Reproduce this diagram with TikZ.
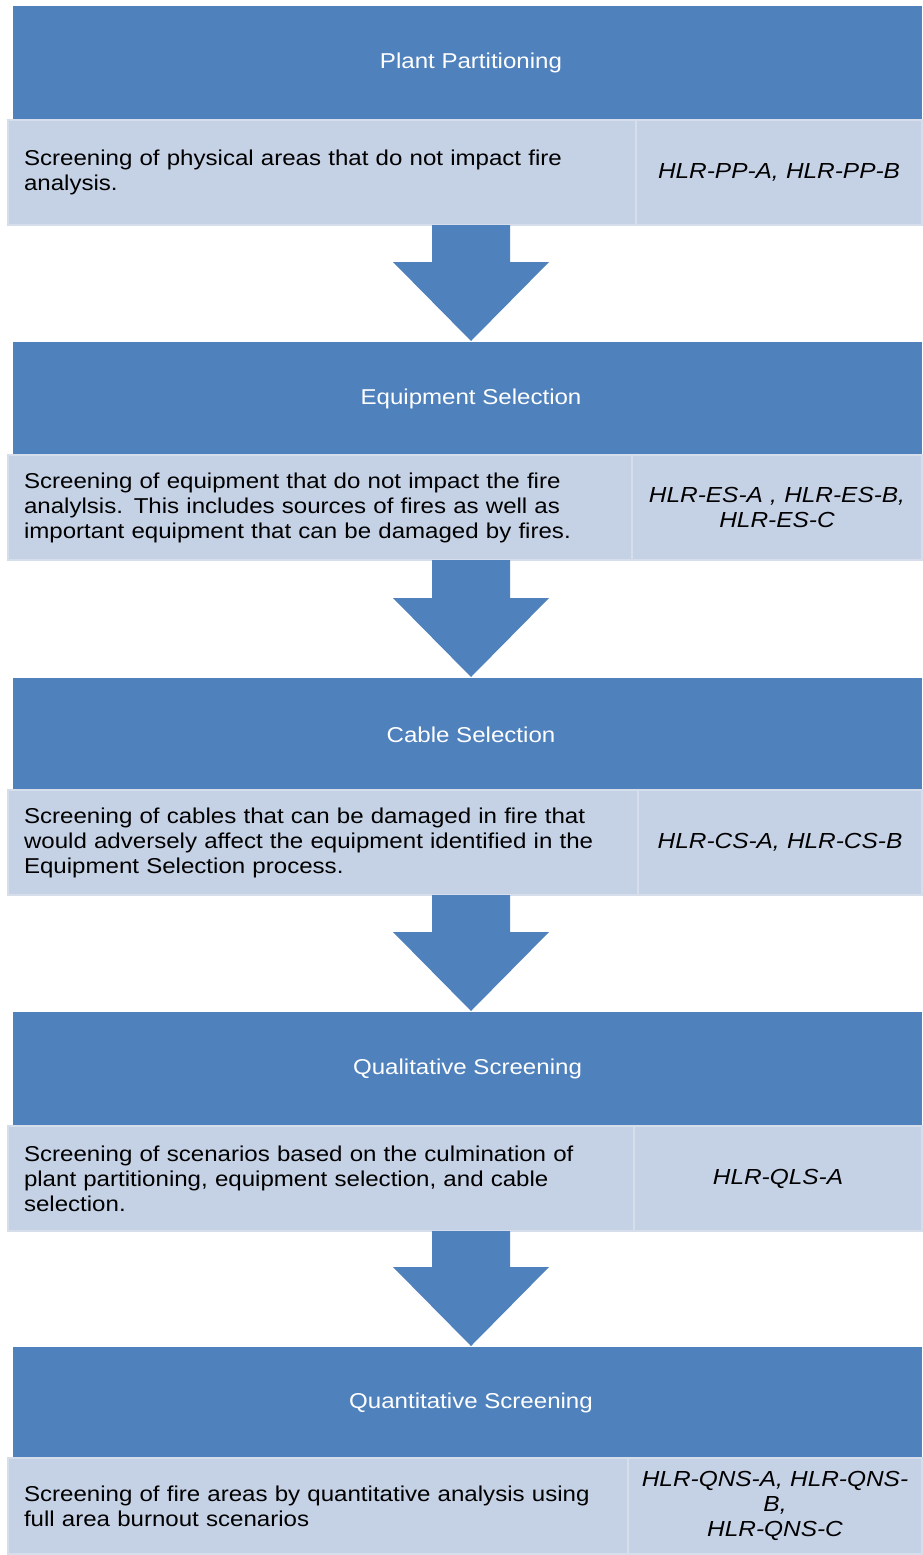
\documentclass[tikz,border=0pt]{standalone}
\usepackage{fontspec}
\setmainfont[FakeStretch=1.12]{Liberation Sans}
\usetikzlibrary{calc}
\definecolor{darkblue}{HTML}{4F81BD}
\definecolor{lightblue}{HTML}{C5D1E5}
\definecolor{celledge}{HTML}{D6DDEB}
\begin{document}
\begin{tikzpicture}[x=1pt,y=-1pt,
  header/.style={fill=darkblue, anchor=north west, inner sep=0pt, outer sep=0pt,
    minimum width=909pt, minimum height=114pt, text=white,
    font=\fontsize{21.5}{25}\selectfont},
  cellleft/.style={fill=lightblue, draw=celledge, line width=2pt, anchor=north west,
    inner xsep=16pt, inner ysep=0pt, outer sep=0pt, minimum height=105pt,
    text width=#1, align=left, font=\fontsize{21.5}{25}\selectfont},
  cellright/.style={fill=lightblue, draw=celledge, line width=2pt, anchor=north west,
    inner xsep=8pt, inner ysep=0pt, outer sep=0pt, minimum height=105pt,
    text width=#1, align=center, font=\fontsize{21.8}{25}\itshape\selectfont},
  arrowfill/.style={fill=darkblue}
]
\useasboundingbox (0,0) rectangle (922,1555);
\fill[white] (0,0) rectangle (922,1555);

% Block 1
\node[header] (h1) at (13,6) {\hspace*{7pt}Plant Partitioning};
\node[cellleft=596pt] (l1) at (8,120) {Screening of physical areas that do not impact fire\\analysis.};
\node[cellright=270pt] (r1) at (636,120) {HLR-PP-A, HLR-PP-B};

% Block 2
\node[header] (h2) at (13,342) {\hspace*{7pt}Equipment Selection};
\node[cellleft=592pt] (l2) at (8,455) {Screening of equipment that do not impact the fire\\analylsis.  This includes sources of fires as well as\\important equipment that can be damaged by fires.};
\node[cellright=274pt] (r2) at (632,455) {HLR-ES-A , HLR-ES-B,\\HLR-ES-C};

% Block 3
\node[header] (h3) at (13,678) {\hspace*{7pt}Cable Selection};
\node[cellleft=598pt] (l3) at (8,790) {Screening of cables that can be damaged in fire that\\would adversely affect the equipment identified in the\\Equipment Selection process.};
\node[cellright=268pt] (r3) at (638,790) {HLR-CS-A, HLR-CS-B};

% Block 4
\node[header] (h4) at (13,1012) {Qualitative  Screening};
\node[cellleft=594pt] (l4) at (8,1126) {Screening of scenarios based on the culmination of\\plant partitioning, equipment selection, and cable\\selection.};
\node[cellright=272pt] (r4) at (634,1126) {HLR-QLS-A};

% Block 5
\node[header, minimum height=111pt] (h5) at (13,1347) {\hspace*{7pt}Quantitative  Screening};
\node[cellleft=588pt, minimum height=96pt] (l5) at (8,1458) {Screening of fire areas by quantitative analysis using\\full area burnout scenarios};
\node[cellright=278pt, minimum height=96pt] (r5) at (628,1458) {HLR-QNS-A, HLR-QNS-\\B,\\HLR-QNS-C};

% Arrows between blocks
\foreach \a/\b in {l1/h2, l2/h3, l3/h4, l4/h5}{
  \fill[arrowfill] let \p1=($(\a.south -| h1.center)+(3.5pt,0)$),
                      \p2=($(\b.north -| h1.center)+(3.5pt,0)$) in
    (\x1-39pt,\y1) -- (\x1+39pt,\y1) -- (\x1+39pt,\y2+80pt) -- (\x1+78pt,\y2+80pt)
    -- (\x2,\y2+1pt) -- (\x1-78pt,\y2+80pt) -- (\x1-39pt,\y2+80pt) -- cycle;
}
\end{tikzpicture}
\end{document}
